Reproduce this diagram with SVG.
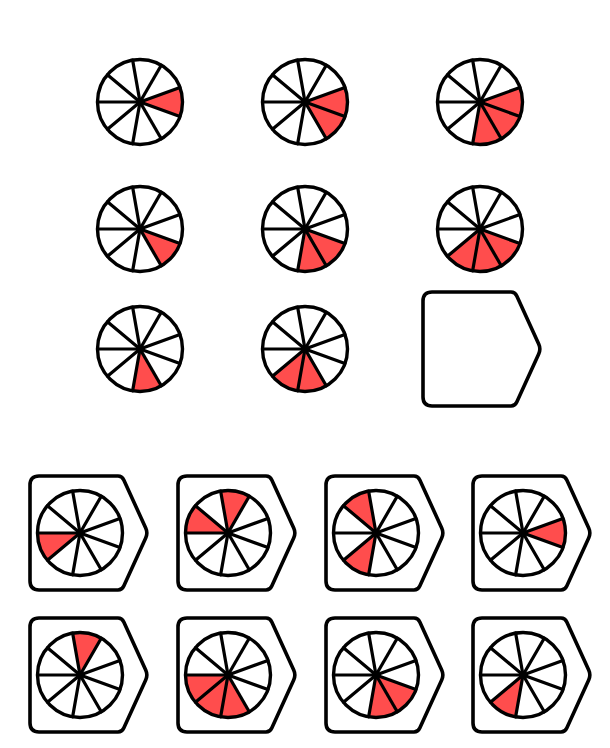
<svg xmlns="http://www.w3.org/2000/svg" xmlns:xlink="http://www.w3.org/1999/xlink" width="610" height="748" viewBox="0 0 610 748">
<style>
.rim{fill:none;stroke:#000;stroke-width:3.4}
.spoke{stroke:#000;stroke-width:3.2;stroke-linecap:round}
.hub{fill:#000}
.red{fill:#FF4D4D;stroke:none}
.box{fill:#fff;stroke:#000;stroke-width:3.6;stroke-linejoin:round}
</style>
<defs>
<path id="s" class="red" d="M0,0 L39.94,-14.54 A42.5,42.5 0 0 1 39.94,14.54 Z"/>
<g id="wheel">
<g class="spoke">
<line x1="0" y1="0" x2="39.94" y2="14.54"/>
<line x1="0" y1="0" x2="21.25" y2="36.81"/>
<line x1="0" y1="0" x2="-7.38" y2="41.85"/>
<line x1="0" y1="0" x2="-32.56" y2="27.32"/>
<line x1="0" y1="0" x2="-42.5" y2="0"/>
<line x1="0" y1="0" x2="-32.56" y2="-27.32"/>
<line x1="0" y1="0" x2="-7.38" y2="-41.85"/>
<line x1="0" y1="0" x2="21.25" y2="-36.81"/>
<line x1="0" y1="0" x2="39.94" y2="-14.54"/>
</g>
<circle class="rim" cx="0" cy="0" r="42.5"/>
<circle class="hub" cx="0" cy="0" r="3.6"/>
</g>
<path id="frame" class="box" d="M9,0 H88 Q92,0 93.8,4 L115.7,52 Q118,57 115.7,62 L93.8,110 Q92,114 88,114 H9 Q0,114 0,105 V9 Q0,0 9,0 Z"/>
</defs>

<g id="connectors"></g>

<g id="q11" transform="translate(140,102)"><use href="#s"/><use href="#wheel"/></g>
<g id="q12" transform="translate(305,102)"><use href="#s"/><use href="#s" transform="rotate(40)"/><use href="#wheel"/></g>
<g id="q13" transform="translate(480,102)"><use href="#s"/><use href="#s" transform="rotate(40)"/><use href="#s" transform="rotate(80)"/><use href="#wheel"/></g>

<g id="q21" transform="translate(140,229)"><use href="#s" transform="rotate(40)"/><use href="#wheel"/></g>
<g id="q22" transform="translate(305,229)"><use href="#s" transform="rotate(40)"/><use href="#s" transform="rotate(80)"/><use href="#wheel"/></g>
<g id="q23" transform="translate(480,229)"><use href="#s" transform="rotate(40)"/><use href="#s" transform="rotate(80)"/><use href="#s" transform="rotate(120)"/><use href="#wheel"/></g>

<g id="q31" transform="translate(140,349)"><use href="#s" transform="rotate(80)"/><use href="#wheel"/></g>
<g id="q32" transform="translate(305,349)"><use href="#s" transform="rotate(80)"/><use href="#s" transform="rotate(120)"/><use href="#wheel"/></g>
<g id="q33" transform="translate(423,292)"><use href="#frame"/></g>

<g id="opt1" transform="translate(30,476)"><use href="#frame"/><g transform="translate(50,57)"><use href="#s" transform="rotate(160)"/><use href="#wheel"/></g></g>
<g id="opt2" transform="translate(178,476)"><use href="#frame"/><g transform="translate(50,57)"><use href="#s" transform="rotate(200)"/><use href="#s" transform="rotate(280)"/><use href="#wheel"/></g></g>
<g id="opt3" transform="translate(326,476)"><use href="#frame"/><g transform="translate(50,57)"><use href="#s" transform="rotate(240)"/><use href="#s" transform="rotate(120)"/><use href="#wheel"/></g></g>
<g id="opt4" transform="translate(473,476)"><use href="#frame"/><g transform="translate(50,57)"><use href="#s"/><use href="#wheel"/></g></g>

<g id="opt5" transform="translate(30,618)"><use href="#frame"/><g transform="translate(50,57)"><use href="#s" transform="rotate(280)"/><use href="#wheel"/></g></g>
<g id="opt6" transform="translate(178,618)"><use href="#frame"/><g transform="translate(50,57)"><use href="#s" transform="rotate(80)"/><use href="#s" transform="rotate(120)"/><use href="#s" transform="rotate(160)"/><use href="#wheel"/></g></g>
<g id="opt7" transform="translate(326,618)"><use href="#frame"/><g transform="translate(50,57)"><use href="#s" transform="rotate(40)"/><use href="#s" transform="rotate(80)"/><use href="#wheel"/></g></g>
<g id="opt8" transform="translate(473,618)"><use href="#frame"/><g transform="translate(50,57)"><use href="#s" transform="rotate(120)"/><use href="#wheel"/></g></g>
</svg>
